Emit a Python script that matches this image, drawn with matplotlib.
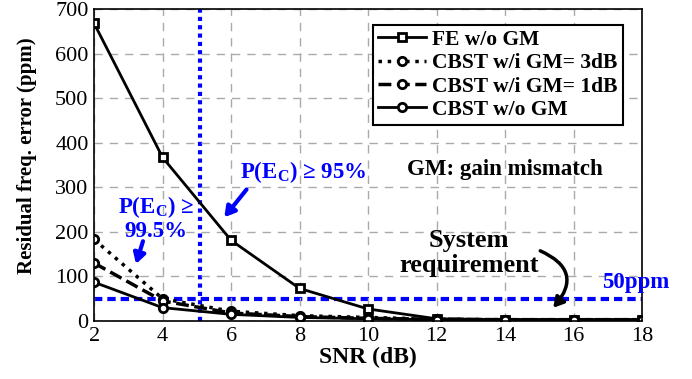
import numpy as np
import matplotlib
matplotlib.use("Agg")
import matplotlib.pyplot as plt

plt.rcParams['font.family'] = ['Liberation Serif', 'DejaVu Serif']
plt.rcParams['mathtext.fontset'] = 'custom'
plt.rcParams['mathtext.rm'] = 'Liberation Serif:bold'
plt.rcParams['mathtext.bf'] = 'Liberation Serif:bold'
plt.rcParams['mathtext.it'] = 'Liberation Serif:bold'

# data
snr = [2, 4, 6, 8, 10, 12, 14, 16, 18]
fe_wo_gm = [668, 367, 181, 73, 27, 5, 3, 3, 3]
cbst_3db = [183, 50, 22, 12, 8, 4, 3, 3, 3]
cbst_1db = [130, 45, 18, 10, 6, 4, 3, 3, 3]
cbst_wo_gm = [87, 30, 15, 8, 5, 3, 3, 3, 3]
labels = ['FE w/o GM', 'CBST w/i GM= 3dB', 'CBST w/i GM= 1dB', 'CBST w/o GM']

requirement = 50
snr_95 = 5.1
blue = '#0000ff'

fig = plt.figure(figsize=(6.92, 3.79), dpi=100)
ax = fig.add_axes([0.136, 0.153, 0.792, 0.823])

mk = dict(markersize=6, markeredgewidth=2, markeredgecolor='black', markerfacecolor='white')
ax.plot(snr, fe_wo_gm, '-', color='black', lw=2, marker='s', label=labels[0], **mk)
ax.plot(snr, cbst_3db, ':', color='black', lw=2.5, marker='o', label=labels[1], **mk)
ax.plot(snr, cbst_1db, '--', color='black', lw=2.5, marker='o', label=labels[2], **mk)
ax.plot(snr, cbst_wo_gm, '-', color='black', lw=2, marker='o', label=labels[3], **mk)

ax.axhline(requirement, color=blue, lw=3, ls=(0, (2, 1.2)), zorder=1)
ax.axvline(snr_95, color=blue, lw=3, ls=(0, (1, 1)), zorder=1)

ax.set_xlim(2, 18)
ax.set_ylim(0, 700)
ax.set_xticks(range(2, 19, 2))
ax.set_yticks(range(0, 701, 100))
ax.tick_params(labelsize=16, direction='in', length=0, pad=4)
ax.grid(True, ls=(0, (6, 5)), color='#aaaaaa', lw=1)
for s in ax.spines.values():
    s.set_linewidth(1.2)

ax.set_xlabel('SNR (dB)', fontsize=17, fontweight='bold', labelpad=1)
ax.set_ylabel('Residual freq. error (ppm)', fontsize=15, fontweight='bold')
ax.yaxis.set_label_coords(-0.105, 0.53)

leg = ax.legend(loc='upper right', bbox_to_anchor=(0.985, 0.985), fancybox=False,
                edgecolor='black', framealpha=1, borderpad=0.25, labelspacing=0.15,
                handlelength=2.2, handletextpad=0.3, prop={'size': 15.5, 'weight': 'bold'})
leg.get_frame().set_linewidth(1.5)

ax.text(6.25, 335, r'P(E$_\mathrm{C}$) ≥ 95%', color=blue, fontsize=16.5,
        fontweight='bold', va='center', ha='left')
ax.text(3.8, 232, 'P(E$_\\mathrm{C}$) ≥\n99.5%', color=blue, fontsize=16.5,
        fontweight='bold', va='center', ha='center', linespacing=1.05)
ax.text(14.0, 339, 'GM: gain mismatch', fontsize=16.5, fontweight='bold',
        va='center', ha='center')
ax.text(12.95, 152, 'System\nrequirement', fontsize=19, fontweight='bold',
        va='center', ha='center', linespacing=1.1)
ax.text(17.8, 87, '50ppm', color=blue, fontsize=16.5, fontweight='bold',
        va='center', ha='center', clip_on=False)

arrow_b = dict(arrowstyle='-|>,head_length=0.6,head_width=0.35', color=blue, lw=3)
ax.annotate('', xy=(5.75, 228), xytext=(6.5, 300), arrowprops=arrow_b)
ax.annotate('', xy=(3.2, 122), xytext=(3.45, 185), arrowprops=arrow_b)
ax.annotate('', xy=(15.35, 25), xytext=(14.95, 160),
            arrowprops=dict(arrowstyle='-|>,head_length=0.6,head_width=0.35',
                            color='black', lw=2.5,
                            connectionstyle='arc3,rad=-0.7'))

fig.savefig('out.png', dpi=100)
